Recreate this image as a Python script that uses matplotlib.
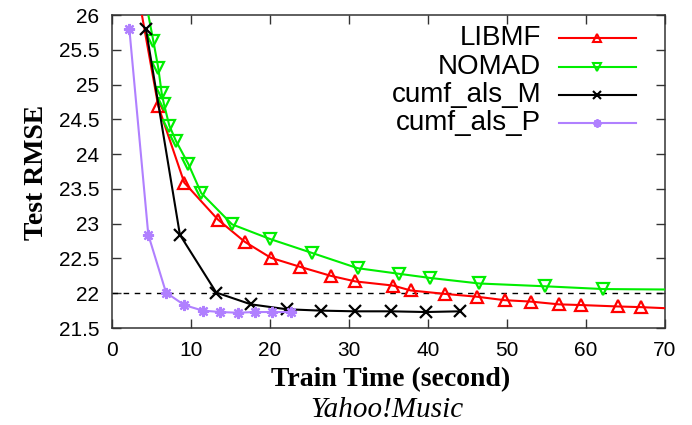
#libraries
import matplotlib
matplotlib.use('Agg')
import matplotlib.pyplot as plt

#data
libmf_t = [3.0, 5.86, 9.15, 13.4, 16.8, 20.1, 23.8, 27.7, 30.8, 35.6, 37.8, 42.2, 46.2, 49.7, 53.0, 56.6, 59.4, 64.0, 67.0, 75.0]
libmf_rmse = [26.5, 24.69, 23.59, 23.06, 22.74, 22.51, 22.38, 22.25, 22.17, 22.11, 22.04, 21.99, 21.95, 21.90, 21.88, 21.84, 21.83, 21.81, 21.80, 21.76]

nomad_t = [4.0, 5.23, 5.86, 6.29, 6.58, 7.26, 8.1, 9.66, 11.3, 15.2, 20.0, 25.3, 31.1, 36.3, 40.25, 46.5, 54.8, 62.2, 75.0]
nomad_rmse = [26.36, 25.63, 25.24, 24.88, 24.72, 24.41, 24.19, 23.86, 23.44, 22.99, 22.78, 22.58, 22.36, 22.28, 22.22, 22.14, 22.10, 22.06, 22.05]

als_m_t = [4.3, 8.6, 13.2, 17.6, 22.1, 26.4, 30.8, 35.3, 39.7, 44.05]
als_m_rmse = [25.8, 22.84, 22.01, 21.84, 21.77, 21.75, 21.74, 21.74, 21.73, 21.74]

als_p_t = [2.2, 4.6, 6.84, 9.15, 11.5, 13.7, 15.9, 18.1, 20.3, 22.6]
als_p_rmse = [25.8, 22.84, 22.01, 21.83, 21.75, 21.73, 21.72, 21.73, 21.73, 21.73]

labels = ['LIBMF', 'NOMAD', 'cumf_als_M', 'cumf_als_P']
target_rmse = 22.0

xticks = [0, 10, 20, 30, 40, 50, 60, 70]
yticks = [21.5, 22, 22.5, 23, 23.5, 24, 24.5, 25, 25.5, 26]

#styles
colors = ['#ff0000', '#00ee00', '#000000', '#b080ff']
markers = ['^', 'v', 'x', (8, 2, 0)]
sans = ['Liberation Sans', 'DejaVu Sans']
serif = ['Liberation Serif', 'DejaVu Serif']

fig = plt.figure(figsize=(6.92, 4.25), dpi=100)
ax = fig.add_axes([0.1618, 0.2282, 0.961 - 0.1618, 0.9647 - 0.2282])

series = [(libmf_t, libmf_rmse), (nomad_t, nomad_rmse), (als_m_t, als_m_rmse), (als_p_t, als_p_rmse)]
for i, (t, r) in enumerate(series):
    if i < 2:
        mk = list(range(1, len(t) - 1))   # first/last points are off the plot
    else:
        mk = None
    filled = 'none' if i < 2 else 'full'
    ax.plot(t, r, color=colors[i], lw=1.5, marker=markers[i], markersize=8,
            mew=1.6, fillstyle=filled, markevery=mk, zorder=3)

ax.axhline(target_rmse, color='black', lw=1, dashes=(4, 4), zorder=2)

ax.set_xlim(0, 70)
ax.set_ylim(21.5, 26)
ax.set_xticks(xticks)
ax.set_yticks(yticks)
ax.set_xticklabels([str(v) for v in xticks], family=sans, fontsize=15)
ax.set_yticklabels(['%g' % v for v in yticks], family=sans, fontsize=15)
ax.tick_params(direction='in', length=6.5, width=1, top=True, right=True, color='#333333')
ax.tick_params(axis='x', pad=9)
ax.tick_params(axis='y', pad=9)
for s in ax.spines.values():
    s.set_linewidth(1.1)
    s.set_color('#333333')

ax.set_xlabel('Train Time (second)', family=serif, fontweight='bold', fontsize=20)
ax.xaxis.set_label_coords(0.503, -0.166)
ax.xaxis.label.set_va('center')
ax.set_ylabel('Test RMSE', family=serif, fontweight='bold', fontsize=20)
ax.yaxis.set_label_coords(-0.1365, 0.498)
ax.yaxis.label.set_va('center')

fig.text(0.559, 0.035, 'Yahoo!Music', family=serif, style='italic', fontsize=21,
         ha='center', va='center')

# gnuplot style key: text right aligned, sample on the right
key_y = [0.9275, 0.8348, 0.7435, 0.654]
for i, lab in enumerate(labels):
    ax.text(0.7758, key_y[i], lab, transform=ax.transAxes, family=sans,
            fontsize=20, ha='right', va='center')
    ax.plot([0.8083, 0.8779, 0.9476], [key_y[i]] * 3, transform=ax.transAxes,
            color=colors[i], lw=1.5, marker=markers[i], markersize=6, mew=1.5,
            fillstyle='none' if i < 2 else 'full', markevery=[1], clip_on=False)

plt.savefig('out.png', dpi=100)
